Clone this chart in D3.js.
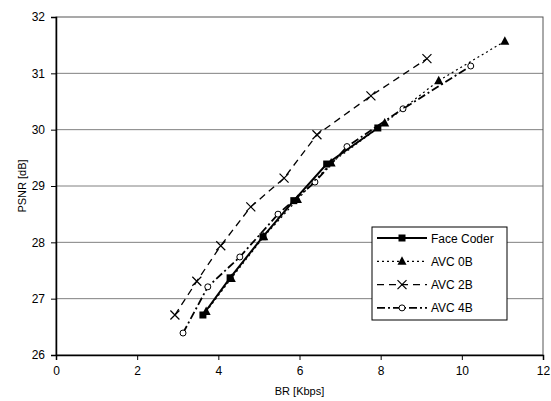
<!DOCTYPE html>
<html>
<head>
<meta charset="utf-8">
<script src="https://cdn.jsdelivr.net/npm/d3@7"></script>
<style>
  body { margin: 0; background: #fff; }
  text { font-family: "Liberation Sans", Arial, sans-serif; }
</style>
</head>
<body>
<script>
// data
var faceX = [3.62, 4.29, 5.10, 5.86, 6.67, 7.93],
	faceY = [26.71, 27.37, 28.10, 28.74, 29.39, 30.03];
var avc0X = [3.70, 4.32, 5.12, 5.95, 6.78, 8.10, 9.43, 11.06],
	avc0Y = [26.77, 27.36, 28.10, 28.76, 29.41, 30.12, 30.87, 31.57];
var avc2X = [2.93, 3.47, 4.06, 4.80, 5.62, 6.43, 7.76, 9.14],
	avc2Y = [26.71, 27.31, 27.94, 28.63, 29.14, 29.91, 30.60, 31.26];
var avc4X = [3.13, 3.74, 4.53, 5.47, 6.38, 7.17, 8.55, 10.22],
	avc4Y = [26.39, 27.21, 27.74, 28.50, 29.07, 29.70, 30.37, 31.13];
var xTicks = [0, 2, 4, 6, 8, 10, 12],
	yTicks = [26, 27, 28, 29, 30, 31, 32];
var seriesNames = ["Face Coder", "AVC 0B", "AVC 2B", "AVC 4B"];

var width = 551, height = 401,
	mLeft = 56, mRight = 543, mTop = 17, mBottom = 355;

var x = d3.scaleLinear().domain([0, 12]).range([mLeft, mRight]);
var y = d3.scaleLinear().domain([26, 32]).range([mBottom, mTop]);

var svg = d3.select("body").append("svg")
	.attr("width", width)
	.attr("height", height);

// grid
svg.selectAll("line.grid")
	.data(yTicks.slice(1, -1))
	.enter().append("line")
	.attr("x1", mLeft).attr("x2", mRight)
	.attr("y1", function(d) { return y(d); })
	.attr("y2", function(d) { return y(d); })
	.attr("stroke", "#808080")
	.attr("stroke-width", 1);

// frame
svg.append("rect")
	.attr("x", mLeft).attr("y", mTop)
	.attr("width", mRight - mLeft).attr("height", mBottom - mTop)
	.attr("fill", "none")
	.attr("stroke", "#555");

var xAxis = svg.append("g")
	.attr("transform", "translate(0," + mBottom + ")")
	.call(d3.axisBottom(x).tickValues(xTicks).tickFormat(d3.format("d")).tickSize(5).tickPadding(6));
var yAxis = svg.append("g")
	.attr("transform", "translate(" + mLeft + ",0)")
	.call(d3.axisLeft(y).tickValues(yTicks).tickFormat(d3.format("d")).tickSize(5).tickPadding(6));
[xAxis, yAxis].forEach(function(a) {
	a.select(".domain").attr("stroke", "#000").attr("stroke-width", 1.5);
	a.selectAll(".tick line").attr("stroke", "#000");
	a.selectAll("text").attr("font-size", 12).attr("fill", "#000")
		.style("font-family", "'Liberation Sans', Arial, sans-serif");
});

svg.append("text")
	.attr("x", (mLeft + mRight) / 2).attr("y", 395)
	.attr("text-anchor", "middle")
	.attr("font-size", 11)
	.text("BR [Kbps]");
svg.append("text")
	.attr("transform", "translate(26," + ((mTop + mBottom) / 2) + ") rotate(-90)")
	.attr("text-anchor", "middle")
	.attr("font-size", 11)
	.text("PSNR [dB]");

var styles = [
	{ xs: faceX, ys: faceY, dash: null, w: 2, mark: "square" },
	{ xs: avc0X, ys: avc0Y, dash: "2,3", w: 1.2, mark: "triangle" },
	{ xs: avc2X, ys: avc2Y, dash: "7,5", w: 1.3, mark: "cross" },
	{ xs: avc4X, ys: avc4Y, dash: "8,3,2,3", w: 1.8, mark: "circle" }
];

var line = d3.line()
	.x(function(d) { return x(d[0]); })
	.y(function(d) { return y(d[1]); });

function marker(g, type, cx, cy) {
	if (type == "square") {
		g.append("rect").attr("x", cx - 3.5).attr("y", cy - 3.5)
			.attr("width", 7).attr("height", 7).attr("fill", "#000");
	} else if (type == "triangle") {
		g.append("path")
			.attr("d", "M" + cx + "," + (cy - 5) + "L" + (cx + 4.5) + "," + (cy + 3.5) + "L" + (cx - 4.5) + "," + (cy + 3.5) + "Z")
			.attr("fill", "#000");
	} else if (type == "cross") {
		g.append("path")
			.attr("d", "M" + (cx - 4.5) + "," + (cy - 4.5) + "L" + (cx + 4.5) + "," + (cy + 4.5) +
				"M" + (cx - 4.5) + "," + (cy + 4.5) + "L" + (cx + 4.5) + "," + (cy - 4.5))
			.attr("stroke", "#000").attr("stroke-width", 1.2);
	} else {
		g.append("circle").attr("cx", cx).attr("cy", cy).attr("r", 3)
			.attr("fill", "#fff").attr("stroke", "#000").attr("stroke-width", 1);
	}
}

// draw order: later series on top
[3, 2, 1, 0].forEach(function(i) {
	var s = styles[i];
	var pts = s.xs.map(function(v, j) { return [v, s.ys[j]]; });
	var g = svg.append("g");
	g.append("path")
		.attr("d", line(pts))
		.attr("fill", "none")
		.attr("stroke", "#000")
		.attr("stroke-width", s.w)
		.attr("stroke-dasharray", s.dash);
	pts.forEach(function(p) { marker(g, s.mark, x(p[0]), y(p[1])); });
});

// legend
var lg = svg.append("g");
lg.append("rect")
	.attr("x", 372).attr("y", 227)
	.attr("width", 135).attr("height", 93)
	.attr("fill", "#fff").attr("stroke", "#000");
seriesNames.forEach(function(name, i) {
	var s = styles[i], ly = 238 + i * 23.3;
	lg.append("line")
		.attr("x1", 377).attr("x2", 427)
		.attr("y1", ly).attr("y2", ly)
		.attr("stroke", "#000")
		.attr("stroke-width", s.w)
		.attr("stroke-dasharray", s.dash);
	marker(lg, s.mark, 402, ly);
	lg.append("text")
		.attr("x", 431).attr("y", ly + 4.5)
		.attr("font-size", 12)
		.text(name);
});
</script>
</body>
</html>
